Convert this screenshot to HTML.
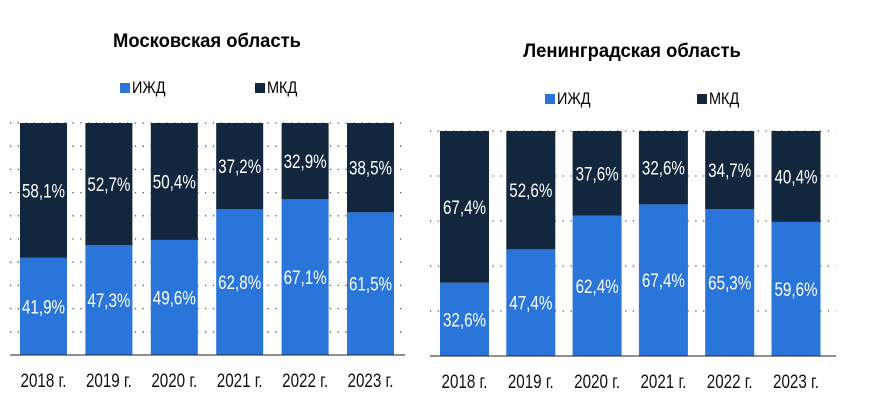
<!DOCTYPE html>
<html><head><meta charset="utf-8"><style>
html,body{margin:0;padding:0;background:#fff}
svg{display:block;font-family:"Liberation Sans",sans-serif}
</style></head><body>
<svg id="c" width="873" height="417"></svg>
<script>
const years=["2018 г.","2019 г.","2020 г.","2021 г.","2022 г.","2023 г."];
const mosIzhd=[41.9,47.3,49.6,62.8,67.1,61.5];
const mosMkd=[58.1,52.7,50.4,37.2,32.9,38.5];
const lenIzhd=[32.6,47.4,62.4,67.4,65.3,59.6];
const lenMkd=[67.4,52.6,37.6,32.6,34.7,40.4];
const NS="http://www.w3.org/2000/svg";
const svg=document.getElementById('c');
const BLUE="#2a75d9",DARK="#12263d";
function mk(t,a,p){const e=document.createElementNS(NS,t);for(const k in a)e.setAttribute(k,a[k]);(p||svg).appendChild(e);return e;}
function txt(p,x,y,s,attrs,sx){const e=mk('text',Object.assign({x:0,y:0,transform:`translate(${x},${y}) scale(${sx||0.8},1)`},attrs),p);e.textContent=s;return e;}
function fmt(v){return v.toFixed(1).replace('.',',')+'%';}
function chart(cfg){
  const g=mk('g',{});
  
  
  const y=v=>cfg.bottom-(cfg.bottom-cfg.top)*v/100;
  const x=i=>cfg.x0+i*cfg.pitch;
  for(let t=cfg.step;t<=100;t+=cfg.step){
    const l=mk('line',{x1:cfg.left,x2:cfg.right,y1:y(t),y2:y(t),stroke:"#555","stroke-width":1.3,"stroke-dasharray":"1.3 6.5"},g);
    
    
  }
  const t=txt(g,cfg.titleX,cfg.titleY,cfg.title,{"text-anchor":"middle","font-size":19,"font-weight":"bold",fill:"#000"},0.97);
  
  
  [["ИЖД",BLUE,cfg.leg1],["МКД",DARK,cfg.leg2]].forEach(([n,c,lx])=>{
    const r=mk('rect',{x:lx,y:cfg.legY-10,width:10,height:10,fill:c},g);
    
    
    const tx=txt(g,lx+12,cfg.legY,n,{"font-size":17,fill:"#000"},0.85);
    
    
  });
  cfg.a.forEach((v,i)=>{
    const b=mk('rect',{x:x(i),y:y(v),width:cfg.bw,height:cfg.bottom-y(v),fill:BLUE},g);
    
    
    const m=cfg.b[i];
    const b2=mk('rect',{x:x(i),y:y(v+m),width:cfg.bw,height:y(v)-y(v+m),fill:DARK},g);
    
    
    const l1=txt(g,x(i)+cfg.bw/2,(y(v)+cfg.bottom)/2+7,fmt(v),{"text-anchor":"middle","font-size":19,fill:"#fff"});
    
    
    const l2=txt(g,x(i)+cfg.bw/2,(y(v)+y(v+m))/2+7,fmt(m),{"text-anchor":"middle","font-size":19,fill:"#fff"});
    
    
    const xl=txt(g,x(i)+cfg.bw/2,cfg.bottom+32,years[i],{"text-anchor":"middle","font-size":19,fill:"#111"});
    
    
  });
  const ax=mk('line',{x1:cfg.left,x2:cfg.right,y1:cfg.bottom,y2:cfg.bottom,stroke:"#222","stroke-width":1},g);
  
  
}
chart({name:'moscow-chart',title:'Московская область',titleX:207,titleY:47,legY:93,leg1:120,leg2:255,
  top:123,bottom:355,left:10,right:405,x0:20,pitch:65.4,bw:47,step:10,a:mosIzhd,b:mosMkd});
chart({name:'leningrad-chart',title:'Ленинградская область',titleX:632,titleY:57,legY:104,leg1:545,leg2:697,
  top:131,bottom:356,left:430,right:836,x0:440,pitch:66.3,bw:49,step:20,a:lenIzhd,b:lenMkd});
</script>
</body></html>
